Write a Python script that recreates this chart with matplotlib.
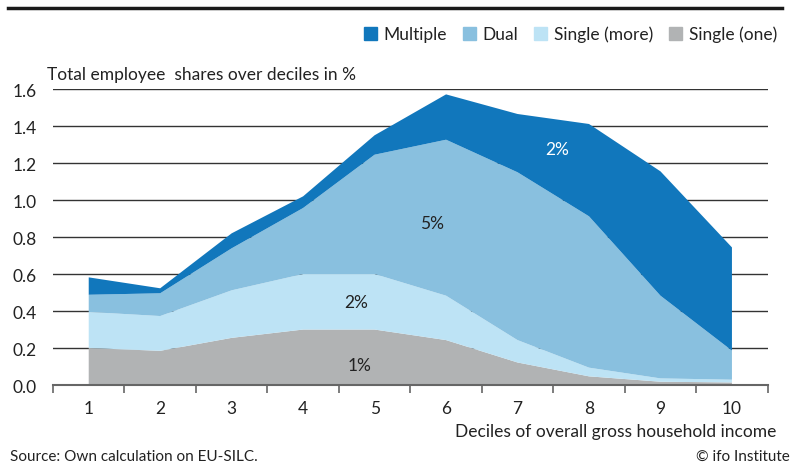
import numpy as np
import matplotlib.pyplot as plt
from matplotlib.patches import Patch

plt.rcParams['font.family'] = ['Lato', 'DejaVu Sans']

deciles = [1, 2, 3, 4, 5, 6, 7, 8, 9, 10]
single_one = [0.200, 0.185, 0.255, 0.300, 0.300, 0.243, 0.122, 0.047, 0.018, 0.014]
single_more = [0.195, 0.188, 0.257, 0.300, 0.300, 0.240, 0.121, 0.047, 0.018, 0.015]
dual = [0.093, 0.123, 0.227, 0.357, 0.645, 0.843, 0.907, 0.818, 0.447, 0.157]
multiple = [0.094, 0.027, 0.081, 0.063, 0.105, 0.245, 0.315, 0.499, 0.672, 0.558]

names = ['Single (one)', 'Single (more)', 'Dual', 'Multiple']
colors = ['#b1b3b4', '#bde3f5', '#89c0df', '#1177bc']
y_ticks = [0.0, 0.2, 0.4, 0.6, 0.8, 1.0, 1.2, 1.4, 1.6]

fs = 12.5

fig = plt.figure(figsize=(7.98, 4.64), dpi=100)
ax = fig.add_axes([0.0664, 0.168, 0.8956, 0.638])

ax.stackplot(deciles, single_one, single_more, dual, multiple,
             colors=colors, linewidth=0, zorder=3)

ax.set_xlim(0.5, 10.5)
ax.set_ylim(0, 1.6)
ax.set_yticks(y_ticks)
ax.set_yticklabels(['%.1f' % v for v in y_ticks])
ax.yaxis.grid(True, color='#333333', linewidth=1.0, zorder=1)
ax.set_axisbelow(True)
ax.tick_params(axis='y', length=0, pad=29, labelsize=fs, labelcolor='#222222')
for lab in ax.get_yticklabels():
    lab.set_horizontalalignment('left')

ax.set_xticks(np.arange(0.5, 11, 1.0))
ax.set_xticklabels([])
ax.set_xticks(deciles, minor=True)
ax.set_xticklabels([str(d) for d in deciles], minor=True)
ax.tick_params(axis='x', which='major', length=6, width=1.2, color='#666666', direction='out')
ax.tick_params(axis='x', which='minor', length=0, pad=11, labelsize=fs, labelcolor='#222222')

for s in ['top', 'right', 'left']:
    ax.spines[s].set_visible(False)
ax.spines['bottom'].set_color('#666666')
ax.spines['bottom'].set_linewidth(1.5)
ax.spines['bottom'].set_zorder(4)

ax.text(4.79, 0.108, '1%', fontsize=fs, color='#222222', ha='center', va='center', zorder=5)
ax.text(4.74, 0.45, '2%', fontsize=fs, color='#222222', ha='center', va='center', zorder=5)
ax.text(5.81, 0.876, '5%', fontsize=fs, color='#222222', ha='center', va='center', zorder=5)
ax.text(7.56, 1.276, '2%', fontsize=fs, color='white', ha='center', va='center', zorder=5)

fig.text(47 / 798, 1 - 75 / 464, 'Total employee  shares over deciles in %',
         fontsize=fs, color='#222222', ha='left', va='center')
fig.text(776 / 798, 1 - 432 / 464, 'Deciles of overall gross household income',
         fontsize=fs, color='#222222', ha='right', va='center')
fig.text(10 / 798, 1 - 457 / 464, 'Source: Own calculation on EU-SILC.',
         fontsize=11, color='#222222', ha='left', va='center')
fig.text(790 / 798, 1 - 457 / 464, '\u00a9 ifo Institute',
         fontsize=11, color='#222222', ha='right', va='center')

fig.add_artist(plt.Line2D([8 / 798, 782 / 798], [1 - 9 / 464, 1 - 9 / 464],
                          color='#1a1a1a', linewidth=2.5))

handles = [Patch(color=colors[i]) for i in [3, 2, 1, 0]]
labels = [names[i] for i in [3, 2, 1, 0]]
fig.legend(handles, labels, loc='center right', bbox_to_anchor=(777 / 798, 1 - 35 / 464),
           ncol=4, frameon=False, fontsize=fs, handlelength=0.75, handleheight=0.75,
           handletextpad=0.4, columnspacing=0.9, borderaxespad=0, borderpad=0,
           labelcolor='#222222')

fig.savefig('out.png', dpi=100)
